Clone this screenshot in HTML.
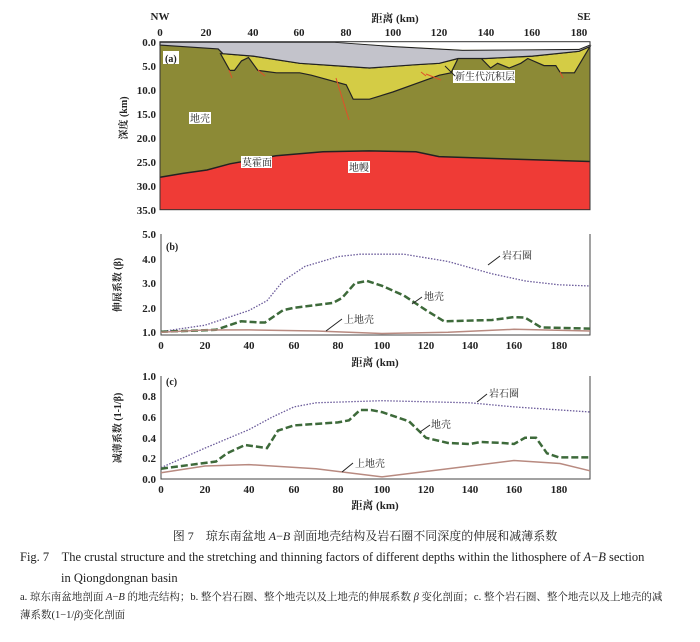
<!DOCTYPE html>
<html><head><meta charset="utf-8"><style>
body{margin:0;background:#fff;}
svg{display:block;}
text{font-family:"Liberation Serif","Noto Serif CJK SC",serif;fill:#222;}
.t{font-size:11px;font-weight:bold;}
</style></head><body>
<svg width="700" height="642" viewBox="0 0 700 642">
<!-- Panel a -->
<rect x="160" y="41.7" width="430" height="168" fill="#8c8a36"/>
<polygon fill="#ef3b36" points="160,177.3 183,173.4 207,170 230,163.8 276,155.7 323,151.8 369,150.9 416,151.8 439,156.6 509,159 590,161.5 590,209.7 160,209.7"/>
<polyline fill="none" stroke="#222" stroke-width="1.5" points="160,177.3 183,173.4 207,170 230,163.8 276,155.7 323,151.8 369,150.9 416,151.8 439,156.6 509,159 590,161.5"/>
<!-- yellow basins -->
<polygon fill="#d4cc45" stroke="#222" stroke-width="1.2" points="220.5,53.7 229.8,70.4 234.5,70.4 241.5,60.9 248.5,57.5 257.8,70.4 276.4,72.8 299.7,72.8 311.3,75.2 346.2,84.8 353.2,99.2 369.5,99.2 392.8,92 439.4,75.2 451,72.8 458,58.5 439.4,63.3 416.1,64.7 369.5,68 299.7,63.3 253.1,56.1 222.9,53.7"/>
<polygon fill="#d4cc45" stroke="#222" stroke-width="1.2" points="481.3,58.5 490.6,68 497.6,63.3 509.2,68 520.8,63.3 527.8,58.5 544,65.6 555.8,65.6 560.4,72.8 574.4,72.8 590,46.5 579,51.3 532.5,56.1 485.9,58.5"/>
<!-- gray layer -->
<polygon fill="#c3c3cb" stroke="#222" stroke-width="1.2" points="160,42.2 334.6,42.2 392.8,46.5 462.6,50.3 579,49.4 590,45 590,46.5 579,51.3 532.5,56.1 485.9,58.5 458,58.5 439.4,63.3 416.1,64.7 369.5,68 299.7,63.3 253.1,56.1 222.9,53.7 218.2,48.9 160,45.1"/>
<polygon fill="#fff" points="334.6,41.9 590,41.9 590,44.5 579,48.9 462.6,49.8 392.8,46 "/>
<rect x="160" y="41.7" width="430" height="168" fill="none" stroke="#333" stroke-width="1"/>
<g stroke="#e0502a" stroke-width="1" fill="none">
<line x1="336" y1="78" x2="349" y2="120"/><line x1="426" y1="74" x2="441" y2="80"/><line x1="421" y1="72" x2="426" y2="76"/>
<line x1="229" y1="70" x2="232" y2="78"/><line x1="258" y1="70" x2="265" y2="76"/><line x1="560" y1="72" x2="563" y2="78"/>
</g>
<text x="160" y="20" class="t" text-anchor="middle">NW</text>
<text x="584" y="20" class="t" text-anchor="middle">SE</text>
<text x="395" y="22" class="t" text-anchor="middle">距离 (km)</text>
<g class="t" text-anchor="middle">
<text x="160" y="36">0</text><text x="206" y="36">20</text><text x="253" y="36">40</text><text x="299" y="36">60</text><text x="346" y="36">80</text><text x="393" y="36">100</text><text x="439" y="36">120</text><text x="486" y="36">140</text><text x="532" y="36">160</text><text x="579" y="36">180</text>
</g>
<g class="t" text-anchor="end">
<text x="156" y="46">0.0</text><text x="156" y="70">5.0</text><text x="156" y="94">10.0</text><text x="156" y="118">15.0</text><text x="156" y="142">20.0</text><text x="156" y="166">25.0</text><text x="156" y="190">30.0</text><text x="156" y="214">35.0</text>
</g>
<text transform="translate(127,118) rotate(-90)" font-size="10" font-weight="bold" text-anchor="middle">深度 (km)</text>
<rect x="163" y="51" width="16" height="13" fill="#fff"/>
<text x="165" y="62" font-size="10" font-weight="bold">(a)</text>
<rect x="189" y="112" width="22" height="12" fill="#fff"/><text x="190" y="122" font-size="10">地壳</text>
<rect x="241" y="156" width="31" height="12" fill="#fff"/><text x="242" y="166" font-size="10">莫霍面</text>
<rect x="348" y="161" width="22" height="12" fill="#fff"/><text x="349" y="171" font-size="10">地幔</text>
<rect x="453" y="70" width="62" height="13" fill="#fff"/><text x="455" y="80" font-size="10">新生代沉积层</text>
<line x1="445" y1="66" x2="455" y2="76" stroke="#222"/>

<!-- Panel b -->
<g fill="none">
<polyline points="161,234 161,335 590,335 590,234" stroke="#444" stroke-width="1"/>
<polyline stroke="#6a5a9a" stroke-width="1.3" stroke-dasharray="1.5,1.5" points="161,331.6 205,325.2 249,310.5 267,300.7 283,281.1 305,266.4 338,256.6 360,254.2 404,254.2 448,261.5 492,273.8 526,281.1 559,284.8 590,286"/>
<polyline stroke="#3d6a3a" stroke-width="2.5" stroke-dasharray="7,3" points="161,331.8 216,329.8 241,321.3 260,322.5 265,322.5 283,310.2 294,307.8 333,302.9 342,298 355,283.3 367,280.9 382,285.8 404,295.6 426,310.2 444,321.3 492,320 514,317.1 525,317.6 541,327.4 590,328.6"/>
<polyline stroke="#b88a80" stroke-width="1.5" points="161,332.3 205,330 249,329.9 316,331 382,333.5 448,332.3 514,329.3 590,331"/>
</g>
<g class="t" text-anchor="middle">
<text x="161" y="349">0</text><text x="205" y="349">20</text><text x="249" y="349">40</text><text x="294" y="349">60</text><text x="338" y="349">80</text><text x="382" y="349">100</text><text x="426" y="349">120</text><text x="470" y="349">140</text><text x="514" y="349">160</text><text x="559" y="349">180</text>
</g>
<g class="t" text-anchor="end">
<text x="156" y="238">5.0</text><text x="156" y="263">4.0</text><text x="156" y="287">3.0</text><text x="156" y="312">2.0</text><text x="156" y="336">1.0</text>
</g>
<text x="375" y="366" class="t" text-anchor="middle">距离 (km)</text>
<text transform="translate(121,285) rotate(-90)" font-size="10" font-weight="bold" text-anchor="middle">伸展系数 (β)</text>
<text x="166" y="250" font-size="10" font-weight="bold">(b)</text>
<text x="502" y="259" font-size="10">岩石圈</text><line x1="488" y1="265" x2="500" y2="256" stroke="#222"/>
<text x="424" y="300" font-size="10">地壳</text><line x1="412" y1="304" x2="422" y2="297" stroke="#222"/>
<text x="344" y="323" font-size="10">上地壳</text><line x1="326" y1="331" x2="342" y2="319" stroke="#222"/>

<!-- Panel c -->
<g fill="none">
<polyline points="161,376 161,479 590,479 590,376" stroke="#444" stroke-width="1"/>
<polyline stroke="#6a5a9a" stroke-width="1.3" stroke-dasharray="1.5,1.5" points="161,467.7 205,448.1 249,429.6 272,417.2 294,406.9 316,402.8 382,400.7 470,402.8 514,406.9 590,412"/>
<polyline stroke="#3d6a3a" stroke-width="2.5" stroke-dasharray="7,3" points="161,468.7 216,461.5 227,453.3 245,445 267,448.1 278,430.6 294,425.4 338,422.4 349,420.3 360,410 371,410 382,412.1 409,421.3 426,437.8 448,443 470,444 481,442 503,443 514,444 525,437.8 536,437.8 547,453.3 559,457.4 590,457.4"/>
<polyline stroke="#b88a80" stroke-width="1.5" points="161,472.8 205,466 249,464.6 316,468.7 382,476.9 448,468.7 514,460.5 560,463.5 590,470.8"/>
</g>
<g class="t" text-anchor="middle">
<text x="161" y="493">0</text><text x="205" y="493">20</text><text x="249" y="493">40</text><text x="294" y="493">60</text><text x="338" y="493">80</text><text x="382" y="493">100</text><text x="426" y="493">120</text><text x="470" y="493">140</text><text x="514" y="493">160</text><text x="559" y="493">180</text>
</g>
<g class="t" text-anchor="end">
<text x="156" y="380">1.0</text><text x="156" y="400">0.8</text><text x="156" y="421">0.6</text><text x="156" y="442">0.4</text><text x="156" y="462">0.2</text><text x="156" y="483">0.0</text>
</g>
<text x="375" y="509" class="t" text-anchor="middle">距离 (km)</text>
<text transform="translate(121,428) rotate(-90)" font-size="10" font-weight="bold" text-anchor="middle">减薄系数 (1-1/β)</text>
<text x="166" y="385" font-size="10" font-weight="bold">(c)</text>
<text x="489" y="397" font-size="10">岩石圈</text><line x1="477" y1="402" x2="487" y2="394" stroke="#222"/>
<text x="431" y="428" font-size="10">地壳</text><line x1="420" y1="432" x2="430" y2="425" stroke="#222"/>
<text x="355" y="467" font-size="10">上地壳</text><line x1="342" y1="472" x2="353" y2="463" stroke="#222"/>

<!-- Captions -->
<text x="365" y="540" font-size="12" text-anchor="middle">图 7　琼东南盆地 <tspan font-style="italic">A</tspan>−<tspan font-style="italic">B</tspan> 剖面地壳结构及岩石圈不同深度的伸展和减薄系数</text>
<text x="20" y="561" font-size="12.5">Fig. 7　The crustal structure and the stretching and thinning factors of different depths within the lithosphere of <tspan font-style="italic">A</tspan>−<tspan font-style="italic">B</tspan> section</text>
<text x="61" y="582" font-size="12.5">in Qiongdongnan basin</text>
<text x="20" y="600" font-size="10.5">a. 琼东南盆地剖面 <tspan font-style="italic">A</tspan>−<tspan font-style="italic">B</tspan> 的地壳结构；b. 整个岩石圈、整个地壳以及上地壳的伸展系数 <tspan font-style="italic">β</tspan> 变化剖面；c. 整个岩石圈、整个地壳以及上地壳的减</text>
<text x="20" y="618" font-size="10.5">薄系数(1−1/<tspan font-style="italic">β</tspan>)变化剖面</text>
</svg>
</body></html>
